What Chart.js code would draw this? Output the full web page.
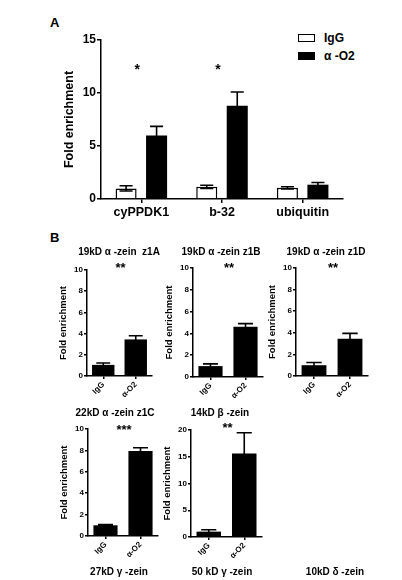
<!DOCTYPE html>
<html><head><meta charset="utf-8">
<script src="https://cdn.jsdelivr.net/npm/chart.js@4.4.0/dist/chart.umd.min.js"></script>
<style>
html,body{margin:0;padding:0;background:#fff}
body{width:402px;height:580px;overflow:hidden;position:relative;font-family:"Liberation Sans",Arial,sans-serif;font-weight:bold;color:#000}
.t{position:absolute;white-space:nowrap;line-height:1}
.ct{position:absolute;white-space:pre;line-height:1;text-align:center;width:160px}
.box{position:absolute;box-sizing:border-box;border:1.5px solid #000}
</style></head><body>
<div class="t" style="left:50px;top:16px;font-size:13px">A</div>
<div class="t" style="left:50px;top:231px;font-size:13px">B</div>
<div class="box" style="left:298px;top:34px;width:17px;height:8px;background:#fff"></div>
<div class="box" style="left:298px;top:52px;width:17px;height:8px;background:#000"></div>
<div class="t" id="legA0" style="left:324px;top:32px;font-size:12px"></div>
<div class="t" id="legA1" style="left:324px;top:49.5px;font-size:12px"></div>
<script>
// ---------- data ----------
const genesA = ['cyPPDK1', 'b-32', 'ubiquitin'];
const seriesA = ['IgG', 'α -O2'];
const igGA = [1.0, 1.15, 1.05];
const igGErrA = [0.25, 0.15, 0.1];
const o2A = [6.0, 8.8, 1.35];
const o2ErrA = [0.85, 1.3, 0.2];
const sigA = ['*', '*', ''];
const sigYA = 12.5;
const ticksA = [0, 5, 10, 15];

const groupsB = ['IgG', 'α-O2'];
const titlesB = ['19kD α -zein  z1A', '19kD α -zein z1B', '19kD α -zein z1D', '22kD α -zein z1C', '14kD β -zein'];
const valuesB1 = [1.05, 3.45];
const valuesB2 = [1.0, 4.6];
const valuesB3 = [1.0, 3.45];
const valuesB4 = [1.0, 7.95];
const valuesB5 = [1.0, 15.6];
const errorsB1 = [0.17, 0.35];
const errorsB2 = [0.2, 0.3];
const errorsB3 = [0.25, 0.5];
const errorsB4 = [0.07, 0.3];
const errorsB5 = [0.35, 3.9];
const sigB = ['**', '**', '**', '***', '**'];
const sigYB = [10.45, 10.3, 10.3, 10.2, 20.9];
const ticksB10 = [0, 2, 4, 6, 8, 10];
const ticksB20 = [0, 5, 10, 15, 20];
const footB = ['27kD γ -zein', '50 kD γ -zein', '10kD δ -zein'];

// ---------- setup ----------
Chart.defaults.font.family = "'Liberation Sans', Arial, sans-serif";
Chart.defaults.font.weight = 'bold';
Chart.defaults.color = '#000';
Chart.defaults.animation = false;

document.getElementById('legA0').textContent = seriesA[0];
document.getElementById('legA1').textContent = seriesA[1];

const errorBarPlugin = {
  id: 'errorBars',
  afterDatasetsDraw(chart) {
    const ctx = chart.ctx, y = chart.scales.y;
    chart.data.datasets.forEach((ds, i) => {
      if (!ds.errors) return;
      const meta = chart.getDatasetMeta(i);
      meta.data.forEach((bar, j) => {
        const v = ds.data[j], e = ds.errors[j];
        const yt = y.getPixelForValue(v + e), yb = y.getPixelForValue(v - e);
        const cap = bar.width * 0.62;
        ctx.save();
        ctx.strokeStyle = '#000';
        ctx.lineWidth = 1.6;
        ctx.beginPath();
        ctx.moveTo(bar.x, yb); ctx.lineTo(bar.x, yt);
        ctx.moveTo(bar.x - cap / 2, yt); ctx.lineTo(bar.x + cap / 2, yt);
        ctx.moveTo(bar.x - cap / 2, yb); ctx.lineTo(bar.x + cap / 2, yb);
        ctx.stroke();
        ctx.restore();
      });
    });
  }
};

const sigPlugin = {
  id: 'sig',
  afterDraw(chart, args, opts) {
    if (!opts.labels) return;
    const ctx = chart.ctx;
    ctx.save();
    ctx.fillStyle = '#000';
    ctx.font = 'bold ' + opts.size + "px 'Liberation Sans', Arial, sans-serif";
    ctx.textAlign = 'center';
    ctx.textBaseline = 'alphabetic';
    const yp = chart.scales.y.getPixelForValue(opts.y) + opts.size * 0.55;
    opts.labels.forEach((s, j) => {
      if (!s) return;
      const x = opts.center ? (chart.chartArea.left + chart.chartArea.right) / 2 : chart.scales.x.getPixelForValue(j);
      ctx.fillText(s, x + (opts.dx || 0), yp);
    });
    ctx.restore();
  }
};

function makeCanvas(r) {
  const c = document.createElement('canvas');
  c.width = r.w; c.height = r.h;
  c.style.cssText = `position:absolute;left:${r.x}px;top:${r.y}px;width:${r.w}px;height:${r.h}px`;
  document.body.appendChild(c);
  return c;
}

function makeText(txt, cx, cy, size) {
  const d = document.createElement('div');
  d.className = 'ct';
  d.style.left = (cx - 80) + 'px';
  d.style.top = (cy - 0.49 * size) + 'px';
  d.style.fontSize = size + 'px';
  d.textContent = txt;
  document.body.appendChild(d);
}

function scalesFor(o) {
  return {
    x: {
      offset: true,
      grid: { offset: false, drawOnChartArea: false, tickLength: o.tickX, color: '#000', lineWidth: 1.5 },
      border: { color: '#000', width: 1.5 },
      ticks: { font: { size: o.xFont, weight: 'bold' }, color: '#000', padding: o.xPad, maxRotation: o.rot, minRotation: o.rot, autoSkip: false },
      afterFit(s) { s.height = o.xH; }
    },
    y: {
      min: 0, max: o.ticks[o.ticks.length - 1],
      grid: { drawOnChartArea: false, tickLength: o.tickY, color: '#000', lineWidth: 1.5 },
      border: { color: '#000', width: 1.5 },
      ticks: { font: { size: o.yFont, weight: 'bold' }, color: '#000', padding: 1, autoSkip: false },
      afterBuildTicks(s) { s.ticks = o.ticks.map(v => ({ value: v })); },
      title: { display: true, text: 'Fold enrichment', font: { size: o.titleFont, weight: 'bold' }, color: '#000', padding: { top: 4, bottom: 4 } },
      afterFit(s) { s.width = o.yW; }
    }
  };
}

// ---------- panel A ----------
(function () {
  const cr = { x: 0, y: 0, w: 402, h: 232 };
  const area = { l: 101, t: 40, r: 343, b: 199 };
  const yW = 42.5;
  new Chart(makeCanvas(cr), {
    type: 'bar',
    data: {
      labels: genesA,
      datasets: [
        { label: seriesA[0], data: igGA, errors: igGErrA, backgroundColor: '#fff', borderColor: '#000', borderWidth: 1.5 },
        { label: seriesA[1], data: o2A, errors: o2ErrA, backgroundColor: '#000', borderColor: '#000', borderWidth: 0 }
      ]
    },
    options: {
      responsive: false,
      categoryPercentage: 0.756,
      barPercentage: 0.69,
      layout: { padding: { left: area.l - cr.x - yW, top: area.t - cr.y, right: cr.x + cr.w - area.r, bottom: 0 } },
      plugins: { legend: { display: false }, tooltip: { enabled: false },
        sig: { labels: sigA, y: sigYA, size: 14, dx: -4 } },
      scales: scalesFor({ xH: cr.y + cr.h - area.b, yW: yW, ticks: ticksA, tickX: 4, tickY: 4, xFont: 12.5, yFont: 12, xPad: 2, rot: 0, titleFont: 12.5 })
    },
    plugins: [errorBarPlugin, sigPlugin]
  });
})();

// ---------- panel B ----------
const areasB = [
  { l: 87, t: 270, r: 152, b: 376 },
  { l: 193, t: 268, r: 263, b: 377 },
  { l: 296, t: 268, r: 368, b: 376 },
  { l: 88, t: 429, r: 158, b: 536 },
  { l: 191, t: 430, r: 262, b: 537 }
];
const valuesB = [valuesB1, valuesB2, valuesB3, valuesB4, valuesB5];
const errorsB = [errorsB1, errorsB2, errorsB3, errorsB4, errorsB5];
const ticksB = [ticksB10, ticksB10, ticksB10, ticksB10, ticksB20];
const titlePos = [[119, 252], [221, 252], [326, 252], [115, 413], [220, 413]];
const footPos = [[119, 572], [222, 572], [335, 572]];

areasB.forEach((area, k) => {
  const yW = 33;
  const cr = { x: area.l - 40, y: area.t - 16, w: area.r - (area.l - 40) + 8, h: area.b - (area.t - 16) + 30 };
  new Chart(makeCanvas(cr), {
    type: 'bar',
    data: {
      labels: groupsB,
      datasets: [{ data: valuesB[k], errors: errorsB[k], backgroundColor: '#000', borderWidth: 0 }]
    },
    options: {
      responsive: false,
      categoryPercentage: 1,
      barPercentage: 0.69,
      layout: { padding: { left: area.l - cr.x - yW, top: area.t - cr.y, right: cr.x + cr.w - area.r, bottom: 0 } },
      plugins: { legend: { display: false }, tooltip: { enabled: false },
        sig: { labels: [sigB[k]], y: sigYB[k], size: 13, center: true, dx: 1 } },
      scales: scalesFor({ xH: cr.y + cr.h - area.b, yW: yW, ticks: ticksB[k], tickX: 3, tickY: 3, xFont: 8, yFont: 8, xPad: 1, rot: 45, titleFont: 9.5 })
    },
    plugins: [errorBarPlugin, sigPlugin]
  });
  makeText(titlesB[k], titlePos[k][0], titlePos[k][1], 10);
});
footB.forEach((t, i) => makeText(t, footPos[i][0], footPos[i][1], 10));
</script>
</body></html>
